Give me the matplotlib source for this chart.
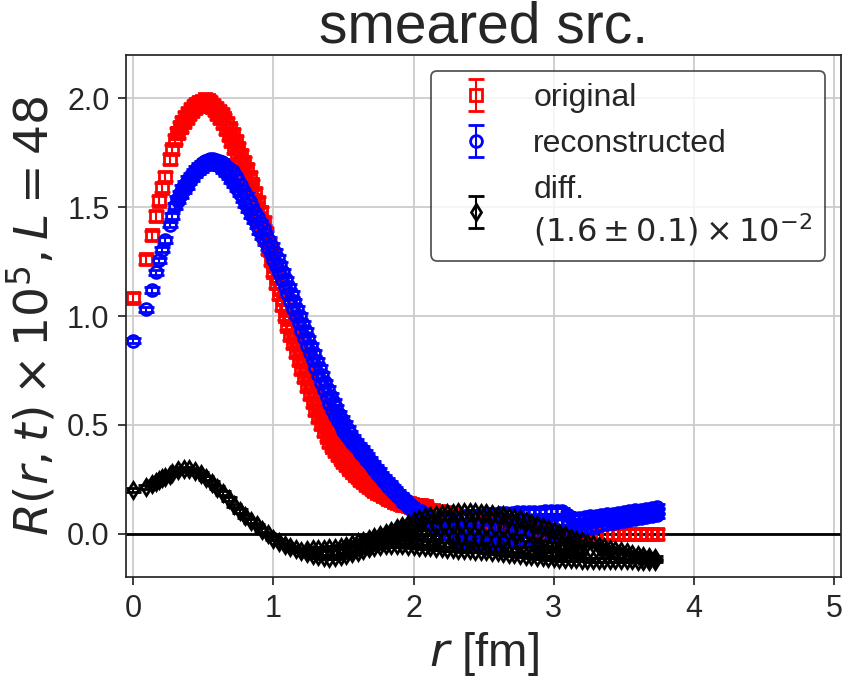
import numpy as np
import matplotlib
matplotlib.use('Agg')
import matplotlib.pyplot as plt

plt.rcParams['font.family'] = ['Liberation Sans', 'DejaVu Sans']
plt.rcParams['mathtext.fontset'] = 'dejavusans'

# ---- data ----
# first lattice radii (discrete points at small r)
r_small = [0.0, 0.093, 0.131, 0.161, 0.186, 0.208, 0.228, 0.263, 0.279]
orig_small = [1.085, 1.26, 1.37, 1.46, 1.53, 1.59, 1.64, 1.72, 1.765]
reco_small = [0.887, 1.03, 1.12, 1.20, 1.255, 1.305, 1.35, 1.42, 1.46]
diff_small = [0.20, 0.215, 0.228, 0.238, 0.247, 0.255, 0.262, 0.272, 0.277]

# dense region, lower edge of the bands
r_grid = [0.30, 0.32, 0.34, 0.36, 0.38, 0.40, 0.42, 0.44, 0.46, 0.48,
          0.50, 0.52, 0.54, 0.56, 0.58, 0.60, 0.62, 0.64, 0.66, 0.68,
          0.70, 0.72, 0.74, 0.76, 0.78, 0.80, 0.82, 0.84, 0.86, 0.88,
          0.90, 0.92, 0.94, 0.96, 0.98, 1.00, 1.02, 1.04, 1.06, 1.08,
          1.10, 1.12, 1.14, 1.16, 1.18, 1.20, 1.22, 1.24, 1.26, 1.28,
          1.30, 1.32, 1.34, 1.36, 1.38, 1.40, 1.42, 1.44, 1.46, 1.48,
          1.50, 1.52, 1.54, 1.56, 1.58, 1.60, 1.62, 1.64, 1.66, 1.68,
          1.70, 1.72, 1.74, 1.76, 1.78, 1.80, 1.82, 1.84, 1.86, 1.88,
          1.90, 1.92, 1.94, 1.96, 1.98, 2.00, 2.02, 2.04, 2.06, 2.08, 2.10]
orig_grid = [1.810, 1.840, 1.866, 1.890, 1.910, 1.928, 1.942, 1.955, 1.965, 1.972,
             1.975, 1.974, 1.968, 1.958, 1.944, 1.928, 1.908, 1.886, 1.860, 1.832,
             1.802, 1.770, 1.738, 1.705, 1.672, 1.640, 1.607, 1.572, 1.535, 1.495,
             1.452, 1.405, 1.356, 1.306, 1.255, 1.204, 1.152, 1.100, 1.050, 1.002,
             0.956, 0.914, 0.874, 0.835, 0.796, 0.757, 0.718, 0.679, 0.641, 0.604,
             0.568, 0.534, 0.502, 0.473, 0.446, 0.422, 0.400, 0.380, 0.362, 0.345,
             0.329, 0.314, 0.299, 0.285, 0.272, 0.259, 0.247, 0.236, 0.225, 0.215,
             0.206, 0.197, 0.189, 0.181, 0.174, 0.167, 0.160, 0.154, 0.148, 0.143,
             0.138, 0.134, 0.130, 0.126, 0.123, 0.120, 0.118, 0.116, 0.114, 0.112, 0.110]
reco_grid = [1.505, 1.530, 1.555, 1.578, 1.598, 1.617, 1.634, 1.650, 1.664, 1.676,
             1.686, 1.694, 1.699, 1.700, 1.698, 1.692, 1.683, 1.671, 1.657, 1.641,
             1.624, 1.605, 1.585, 1.562, 1.538, 1.514, 1.490, 1.465, 1.440, 1.415,
             1.390, 1.365, 1.340, 1.314, 1.287, 1.259, 1.230, 1.199, 1.167, 1.134,
             1.101, 1.068, 1.034, 1.000, 0.966, 0.932, 0.898, 0.864, 0.830, 0.796,
             0.762, 0.728, 0.694, 0.661, 0.629, 0.598, 0.569, 0.542, 0.517, 0.494,
             0.473, 0.454, 0.436, 0.419, 0.403, 0.387, 0.371, 0.355, 0.339, 0.323,
             0.307, 0.291, 0.275, 0.259, 0.244, 0.229, 0.214, 0.200, 0.186, 0.173,
             0.160, 0.148, 0.136, 0.125, 0.114, 0.104, 0.095, 0.087, 0.080, 0.074, 0.069]

# dense region, upper edge of the bands (other lattice directions)
r_grid2 = [0.31, 0.33, 0.35, 0.37, 0.39, 0.41, 0.43, 0.45, 0.47, 0.49,
           0.51, 0.53, 0.55, 0.57, 0.59, 0.61, 0.63, 0.65, 0.67, 0.69,
           0.71, 0.73, 0.75, 0.77, 0.79, 0.81, 0.83, 0.85, 0.87, 0.89,
           0.91, 0.93, 0.95, 0.97, 0.99, 1.01, 1.03, 1.05, 1.07, 1.09,
           1.11, 1.13, 1.15, 1.17, 1.19, 1.21, 1.23, 1.25, 1.27, 1.29,
           1.31, 1.33, 1.35, 1.37, 1.39, 1.41, 1.43, 1.45, 1.47, 1.49,
           1.51, 1.53, 1.55, 1.57, 1.59, 1.61, 1.63, 1.65, 1.67, 1.69,
           1.71, 1.73, 1.75, 1.77, 1.79, 1.81, 1.83, 1.85, 1.87, 1.89,
           1.91, 1.93, 1.95, 1.97, 1.99, 2.01, 2.03, 2.05, 2.07, 2.09]
orig_grid2 = [1.840, 1.868, 1.893, 1.915, 1.934, 1.950, 1.964, 1.975, 1.984, 1.989,
              1.995, 1.991, 1.983, 1.971, 1.956, 1.943, 1.927, 1.908, 1.886, 1.862,
              1.836, 1.804, 1.772, 1.739, 1.706, 1.674, 1.640, 1.604, 1.565, 1.524,
              1.479, 1.431, 1.381, 1.331, 1.280, 1.228, 1.176, 1.125, 1.076, 1.029,
              0.985, 0.944, 0.905, 0.866, 0.827, 0.788, 0.749, 0.710, 0.673, 0.636,
              0.601, 0.568, 0.538, 0.510, 0.484, 0.446, 0.423, 0.403, 0.384, 0.367,
              0.352, 0.336, 0.321, 0.307, 0.294, 0.281, 0.269, 0.258, 0.247, 0.237,
              0.227, 0.216, 0.206, 0.197, 0.188, 0.179, 0.172, 0.166, 0.161, 0.156,
              0.151, 0.147, 0.143, 0.140, 0.137, 0.134, 0.132, 0.130, 0.128, 0.126]
reco_grid2 = [1.538, 1.563, 1.587, 1.608, 1.628, 1.646, 1.662, 1.677, 1.690, 1.701,
              1.710, 1.717, 1.720, 1.719, 1.715, 1.713, 1.706, 1.697, 1.686, 1.673,
              1.665, 1.645, 1.624, 1.600, 1.576, 1.552, 1.528, 1.503, 1.478, 1.453,
              1.428, 1.403, 1.377, 1.351, 1.323, 1.295, 1.265, 1.233, 1.201, 1.168,
              1.135, 1.101, 1.067, 1.033, 0.999, 0.965, 0.931, 0.897, 0.863, 0.829,
              0.795, 0.761, 0.728, 0.695, 0.664, 0.634, 0.606, 0.580, 0.551, 0.526,
              0.503, 0.481, 0.461, 0.441, 0.423, 0.405, 0.388, 0.372, 0.356, 0.340,
              0.321, 0.303, 0.287, 0.272, 0.257, 0.242, 0.227, 0.213, 0.200, 0.187,
              0.174, 0.162, 0.151, 0.140, 0.129, 0.120, 0.111, 0.104, 0.097, 0.092]

# large-r tail (several directions -> spread)
r_tail = [2.14, 2.18, 2.22, 2.26, 2.30, 2.34, 2.38, 2.42, 2.46, 2.50,
          2.54, 2.58, 2.62, 2.66, 2.70, 2.74, 2.78, 2.82, 2.86, 2.90,
          2.94, 2.98, 3.02, 3.06, 3.10, 3.14, 3.18, 3.22, 3.26, 3.30,
          3.34, 3.38, 3.42, 3.46, 3.50, 3.54, 3.58, 3.62, 3.66, 3.70, 3.74]
orig_tail = [0.107, 0.103, 0.099, 0.094, 0.088, 0.082, 0.076, 0.070, 0.064, 0.058,
             0.052, 0.047, 0.042, 0.037, 0.032, 0.028, 0.024, 0.020, 0.017, 0.014,
             0.011, 0.009, 0.007, 0.005, 0.004, 0.003, 0.002, 0.001, 0.0, 0.0,
             0.0, 0.0, 0.0, 0.0, 0.0, 0.0, 0.0, 0.0, 0.0, 0.0, 0.0]
reco_tail_hi = [0.066, 0.066, 0.068, 0.071, 0.074, 0.077, 0.080, 0.083, 0.086, 0.088,
                0.090, 0.092, 0.094, 0.096, 0.097, 0.098, 0.099, 0.100, 0.101, 0.102,
                0.103, 0.104, 0.105, 0.104, 0.088, 0.072, 0.074, 0.077, 0.080, 0.083,
                0.086, 0.089, 0.092, 0.095, 0.099, 0.103, 0.107, 0.111, 0.115, 0.120, 0.125]
reco_tail_mid = [0.056, 0.046, 0.037, 0.030, 0.025, 0.021, 0.019, 0.018, 0.018, 0.019,
                 0.021, 0.024, 0.026, 0.029, 0.032, 0.034, 0.037, 0.040, 0.043, 0.046,
                 0.049, 0.051, 0.054, 0.055, 0.049, 0.043, 0.047, 0.050, 0.054, 0.058,
                 0.062, 0.066, 0.070, 0.074, 0.079, 0.083, 0.088, 0.092, 0.096, 0.100, 0.105]
reco_tail_lo = [0.045, 0.025, 0.005, -0.012, -0.025, -0.035, -0.042, -0.047, -0.050, -0.050,
                -0.048, -0.045, -0.042, -0.038, -0.034, -0.030, -0.026, -0.021, -0.016, -0.011,
                -0.006, -0.002, 0.002, 0.006, 0.010, 0.014, 0.019, 0.023, 0.028, 0.033,
                0.038, 0.043, 0.048, 0.053, 0.058, 0.063, 0.068, 0.072, 0.076, 0.080, 0.084]

r_diff_main = [0.32, 0.36, 0.40, 0.44, 0.48, 0.52, 0.56, 0.60, 0.64, 0.68, 0.72, 0.76,
               0.80, 0.84, 0.88, 0.92, 0.96, 1.00, 1.04, 1.08, 1.12, 1.16, 1.20]
diff_main = [0.292, 0.298, 0.296, 0.288, 0.274, 0.256, 0.235, 0.212, 0.188, 0.160, 0.130, 0.104,
             0.080, 0.058, 0.038, 0.017, -0.003, -0.022, -0.038, -0.052, -0.063, -0.072, -0.078]

r_diff_tail = [1.24, 1.28, 1.32, 1.36, 1.40, 1.44, 1.48, 1.52, 1.56, 1.60,
               1.64, 1.68, 1.72, 1.76, 1.80, 1.84, 1.88, 1.92, 1.96, 2.00,
               2.04, 2.08, 2.12, 2.16, 2.20, 2.24, 2.28, 2.32, 2.36, 2.40,
               2.44, 2.48, 2.52, 2.56, 2.60, 2.64, 2.68, 2.72, 2.76, 2.80,
               2.84, 2.88, 2.92, 2.96, 3.00, 3.04, 3.08, 3.12, 3.16, 3.20,
               3.24, 3.28, 3.32, 3.36, 3.40, 3.44, 3.48, 3.52, 3.56, 3.60,
               3.64, 3.68, 3.72]
diff_hi = [-0.075, -0.072, -0.070, -0.068, -0.066, -0.064, -0.060, -0.054, -0.047, -0.040,
           -0.033, -0.025, -0.016, -0.006, 0.004, 0.014, 0.025, 0.036, 0.047, 0.058,
           0.067, 0.075, 0.082, 0.088, 0.092, 0.095, 0.097, 0.098, 0.099, 0.099,
           0.098, 0.097, 0.095, 0.092, 0.088, 0.084, 0.079, 0.073, 0.066, 0.058,
           0.050, 0.041, 0.032, 0.022, 0.012, 0.002, -0.008, -0.018, -0.028, -0.035,
           -0.041, -0.048, -0.055, -0.062, -0.068, -0.074, -0.080, -0.085, -0.091, -0.097,
           -0.103, -0.108, -0.112]
diff_lo = [-0.088, -0.097, -0.104, -0.109, -0.110, -0.108, -0.104, -0.098, -0.090, -0.082,
           -0.074, -0.067, -0.061, -0.056, -0.053, -0.052, -0.052, -0.053, -0.055, -0.057,
           -0.059, -0.061, -0.063, -0.065, -0.067, -0.069, -0.071, -0.073, -0.075, -0.076,
           -0.077, -0.078, -0.080, -0.083, -0.086, -0.089, -0.092, -0.095, -0.098, -0.101,
           -0.104, -0.107, -0.109, -0.111, -0.113, -0.115, -0.116, -0.117, -0.118, -0.119,
           -0.119, -0.120, -0.120, -0.121, -0.121, -0.121, -0.122, -0.122, -0.122, -0.123,
           -0.123, -0.123, -0.123]

r_diff_mid = [1.86, 1.92, 1.98, 2.04, 2.10, 2.16, 2.22, 2.28, 2.34, 2.40, 2.46, 2.52,
              2.58, 2.64, 2.70, 2.76, 2.82, 2.88, 2.94, 3.00, 3.06, 3.12, 3.18]
diff_mid1 = [-0.028, -0.023, -0.020, -0.017, -0.015, -0.014, -0.014, -0.015, -0.016, -0.018,
             -0.019, -0.022, -0.027, -0.031, -0.037, -0.043, -0.051, -0.058, -0.064, -0.071,
             -0.078, -0.084, -0.090]
diff_mid2 = [-0.004, 0.006, 0.016, 0.025, 0.032, 0.037, 0.040, 0.041, 0.041, 0.041,
             0.039, 0.037, 0.032, 0.026, 0.019, 0.011, 0.002, -0.008, -0.018, -0.029,
             -0.041, -0.051, -0.061]

err_orig = 0.022
err_reco = 0.013
err_diff = 0.008

# ---- assemble series ----
r_o = r_small + r_grid + r_grid2 + r_tail
v_o = orig_small + orig_grid + orig_grid2 + orig_tail
r_r = r_small + r_grid + r_grid2 + r_tail + r_tail + r_tail
v_r = reco_small + reco_grid + reco_grid2 + reco_tail_hi + reco_tail_mid + reco_tail_lo
r_d = r_small + r_diff_main + r_diff_tail + r_diff_tail + r_diff_mid + r_diff_mid
v_d = diff_small + diff_main + diff_hi + diff_lo + diff_mid1 + diff_mid2

fig = plt.figure(figsize=(8.53, 6.84), dpi=100)
ax = fig.add_axes([0.148, 0.156, 0.838, 0.764])
ax.grid(True, color='#cccccc', lw=1.3)
ax.set_axisbelow(True)
ax.axhline(0, color='k', lw=2, zorder=1.5)

kw = dict(linestyle='none', mfc='none', mew=2, capsize=6, elinewidth=1.5, capthick=1.5)
ax.errorbar(r_o, v_o, yerr=np.full(len(v_o), err_orig), fmt='s', color='red', ms=9,
            label='original', **kw)
ax.errorbar(r_r, v_r, yerr=np.full(len(v_r), err_reco), fmt='o', color='blue', ms=8.5,
            label='reconstructed', **kw)
ax.errorbar(r_d, v_d, yerr=np.full(len(v_d), err_diff), fmt='d', color='black', ms=8.5,
            label='diff.\n$(1.6 \\pm 0.1) \\times 10^{-2}$', **kw)

ax.set_xlim(-0.05, 5.05)
ax.set_ylim(-0.2, 2.2)
ax.set_xticks([0, 1, 2, 3, 4, 5])
ax.set_yticks([0.0, 0.5, 1.0, 1.5, 2.0])
ax.set_yticklabels(['0.0', '0.5', '1.0', '1.5', '2.0'])
ax.tick_params(labelsize=22, length=6, width=1.25, color='0.15', labelcolor='0.15',
               direction='out', pad=6)
for s in ax.spines.values():
    s.set_color('0.15')
    s.set_linewidth(1.25)

ax.set_title('smeared src.', fontsize=41, color='0.15', pad=4)
ax.set_xlabel('$r$ [fm]', fontsize=34, color='0.15', labelpad=4)
ax.set_ylabel(r'$R(r,t)\times10^5, L=48$', fontsize=34, color='0.15', labelpad=6)

leg = ax.legend(loc='upper right', fontsize=23, fancybox=True,
                edgecolor='0.15', framealpha=0.8)
leg.get_frame().set_linewidth(1.25)
for t in leg.get_texts():
    t.set_color('0.15')

fig.savefig('out.png', dpi=100)
